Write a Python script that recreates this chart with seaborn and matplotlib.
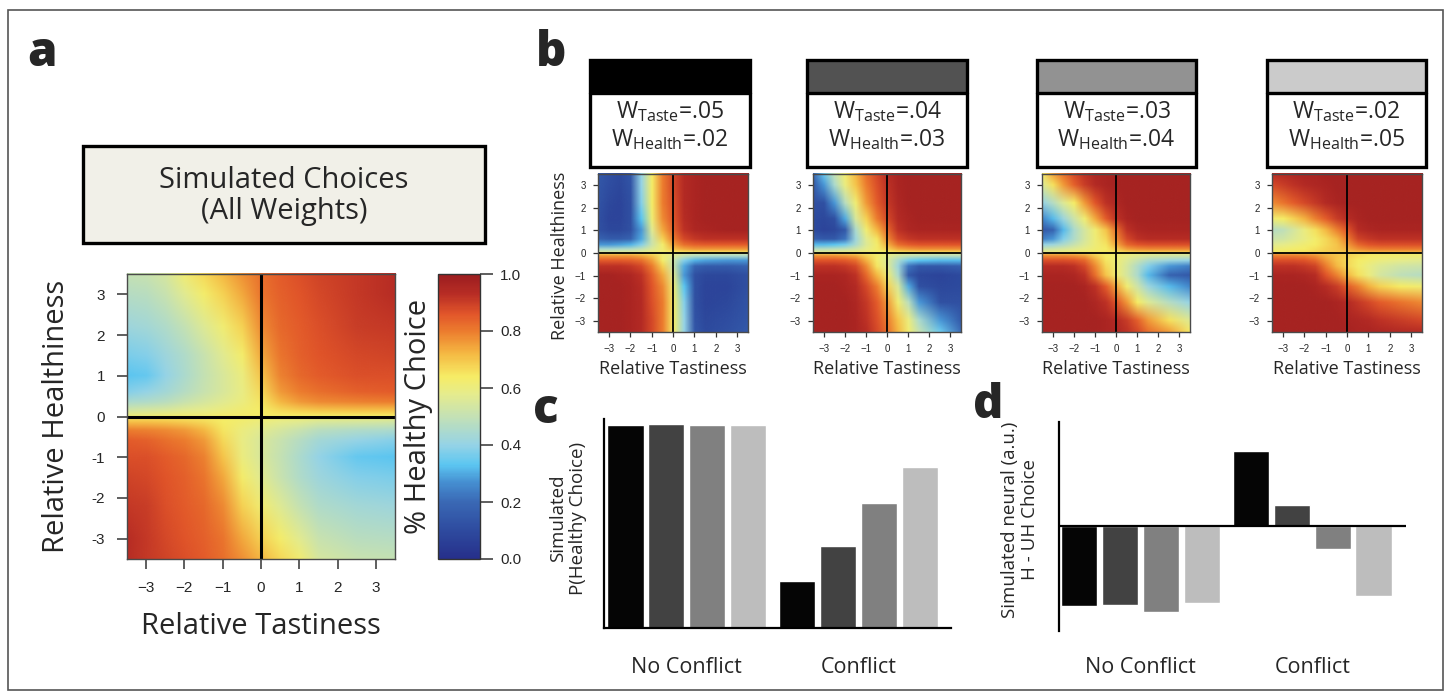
import numpy as np
import pandas as pd
import matplotlib
matplotlib.use("Agg")
import matplotlib.pyplot as plt
import seaborn as sns
from matplotlib.colors import LinearSegmentedColormap, Normalize
from matplotlib.cm import ScalarMappable
from matplotlib.patches import Rectangle
from matplotlib.image import NonUniformImage

# ---------------------------------------------------------------- data
# grid at which the simulated surfaces were read off the picture
tastiness_grid = [-3.5, -3.0, -2.5, -2.0, -1.5, -1.0, -0.5, 0.0, 0.5, 1.0, 1.5, 2.5, 3.5]
healthiness_grid_upper = [0.0, 0.15, 0.35, 0.6, 1.0, 1.5, 2.2, 3.0, 3.5]
# (the lower half of every surface is the 180-degree rotation of the upper half)

axis_ticks = [-3, -2, -1, 0, 1, 2, 3]
xtick_labels = ['\u22123', '\u22122', '\u22121', '0', '1', '2', '3']
ytick_labels_a = ['-3', '-2', '-1', '0', '1', '2', '3']
cbar_ticks = [0.0, 0.2, 0.4, 0.6, 0.8, 1.0]
cbar_ticklabels = ['0.0', '0.2', '0.4', '0.6', '0.8', '1.0']

# P(healthy choice); rows = healthiness_grid_upper, cols = tastiness_grid
all_weights_upper = [
    [0.61, 0.61, 0.62, 0.62, 0.62, 0.63, 0.63, 0.64, 0.64, 0.64, 0.64, 0.64, 0.64],
    [0.53, 0.54, 0.55, 0.57, 0.58, 0.60, 0.62, 0.64, 0.67, 0.69, 0.70, 0.71, 0.71],
    [0.45, 0.46, 0.48, 0.51, 0.54, 0.57, 0.60, 0.65, 0.72, 0.76, 0.78, 0.79, 0.80],
    [0.38, 0.40, 0.43, 0.47, 0.51, 0.55, 0.59, 0.67, 0.76, 0.80, 0.82, 0.84, 0.85],
    [0.33, 0.34, 0.40, 0.45, 0.50, 0.55, 0.60, 0.70, 0.79, 0.83, 0.85, 0.87, 0.87],
    [0.37, 0.38, 0.42, 0.46, 0.51, 0.57, 0.63, 0.74, 0.81, 0.84, 0.86, 0.88, 0.89],
    [0.42, 0.43, 0.46, 0.50, 0.56, 0.62, 0.68, 0.78, 0.83, 0.85, 0.87, 0.90, 0.91],
    [0.47, 0.48, 0.51, 0.57, 0.63, 0.68, 0.74, 0.81, 0.84, 0.86, 0.88, 0.91, 0.93],
    [0.50, 0.51, 0.54, 0.62, 0.67, 0.72, 0.77, 0.82, 0.85, 0.87, 0.89, 0.91, 0.93],
]
taste05_health02_upper = [
    [0.56, 0.56, 0.57, 0.57, 0.58, 0.60, 0.62, 0.64, 0.65, 0.65, 0.65, 0.65, 0.65],
    [0.45, 0.45, 0.46, 0.47, 0.50, 0.56, 0.62, 0.70, 0.74, 0.76, 0.76, 0.76, 0.76],
    [0.28, 0.28, 0.29, 0.31, 0.38, 0.52, 0.63, 0.75, 0.82, 0.84, 0.85, 0.85, 0.85],
    [0.18, 0.16, 0.16, 0.18, 0.30, 0.52, 0.68, 0.80, 0.88, 0.91, 0.92, 0.92, 0.92],
    [0.12, 0.09, 0.09, 0.12, 0.28, 0.57, 0.74, 0.84, 0.92, 0.95, 0.96, 0.97, 0.97],
    [0.12, 0.08, 0.08, 0.12, 0.33, 0.62, 0.78, 0.86, 0.93, 0.96, 0.97, 0.97, 0.97],
    [0.13, 0.09, 0.08, 0.12, 0.38, 0.64, 0.80, 0.87, 0.94, 0.96, 0.97, 0.97, 0.97],
    [0.14, 0.11, 0.09, 0.13, 0.40, 0.64, 0.80, 0.88, 0.94, 0.96, 0.97, 0.97, 0.97],
    [0.15, 0.12, 0.10, 0.14, 0.40, 0.64, 0.80, 0.88, 0.94, 0.96, 0.97, 0.97, 0.97],
]
taste04_health03_upper = [
    [0.58, 0.58, 0.59, 0.60, 0.61, 0.62, 0.63, 0.64, 0.65, 0.66, 0.66, 0.66, 0.66],
    [0.48, 0.48, 0.49, 0.50, 0.53, 0.58, 0.63, 0.68, 0.74, 0.76, 0.77, 0.77, 0.77],
    [0.32, 0.32, 0.33, 0.36, 0.45, 0.56, 0.63, 0.73, 0.82, 0.85, 0.86, 0.86, 0.86],
    [0.17, 0.15, 0.15, 0.22, 0.42, 0.57, 0.65, 0.78, 0.88, 0.91, 0.92, 0.92, 0.92],
    [0.10, 0.08, 0.09, 0.15, 0.45, 0.62, 0.72, 0.83, 0.92, 0.95, 0.96, 0.96, 0.96],
    [0.10, 0.09, 0.12, 0.30, 0.55, 0.68, 0.80, 0.88, 0.94, 0.96, 0.97, 0.97, 0.97],
    [0.12, 0.12, 0.28, 0.48, 0.62, 0.76, 0.85, 0.91, 0.95, 0.97, 0.97, 0.97, 0.97],
    [0.15, 0.28, 0.45, 0.60, 0.70, 0.80, 0.87, 0.92, 0.96, 0.97, 0.97, 0.97, 0.97],
    [0.20, 0.35, 0.50, 0.62, 0.72, 0.82, 0.88, 0.93, 0.96, 0.97, 0.97, 0.97, 0.97],
]
taste03_health04_upper = [
    [0.60, 0.60, 0.61, 0.62, 0.63, 0.64, 0.65, 0.66, 0.67, 0.68, 0.68, 0.68, 0.68],
    [0.52, 0.53, 0.55, 0.57, 0.59, 0.62, 0.64, 0.69, 0.75, 0.77, 0.78, 0.78, 0.78],
    [0.40, 0.42, 0.46, 0.51, 0.56, 0.61, 0.65, 0.74, 0.83, 0.86, 0.87, 0.87, 0.87],
    [0.24, 0.28, 0.38, 0.46, 0.54, 0.61, 0.67, 0.78, 0.88, 0.92, 0.93, 0.93, 0.93],
    [0.15, 0.18, 0.32, 0.45, 0.54, 0.62, 0.70, 0.82, 0.92, 0.95, 0.96, 0.96, 0.96],
    [0.25, 0.32, 0.42, 0.52, 0.62, 0.74, 0.85, 0.92, 0.96, 0.97, 0.97, 0.97, 0.97],
    [0.40, 0.47, 0.56, 0.64, 0.76, 0.86, 0.92, 0.95, 0.97, 0.97, 0.97, 0.97, 0.97],
    [0.56, 0.66, 0.76, 0.84, 0.90, 0.94, 0.96, 0.97, 0.97, 0.97, 0.97, 0.97, 0.97],
    [0.64, 0.75, 0.82, 0.88, 0.92, 0.95, 0.96, 0.97, 0.97, 0.97, 0.97, 0.97, 0.97],
]
taste02_health05_upper = [
    [0.64, 0.64, 0.65, 0.66, 0.67, 0.68, 0.69, 0.70, 0.71, 0.72, 0.72, 0.72, 0.72],
    [0.61, 0.62, 0.63, 0.64, 0.66, 0.68, 0.70, 0.73, 0.77, 0.79, 0.80, 0.80, 0.80],
    [0.57, 0.58, 0.60, 0.62, 0.64, 0.67, 0.70, 0.76, 0.83, 0.86, 0.87, 0.87, 0.87],
    [0.52, 0.53, 0.56, 0.59, 0.63, 0.67, 0.72, 0.80, 0.89, 0.91, 0.92, 0.92, 0.92],
    [0.47, 0.49, 0.54, 0.60, 0.66, 0.72, 0.79, 0.86, 0.93, 0.95, 0.96, 0.96, 0.96],
    [0.62, 0.64, 0.68, 0.73, 0.79, 0.85, 0.90, 0.93, 0.96, 0.97, 0.97, 0.97, 0.97],
    [0.78, 0.81, 0.85, 0.88, 0.91, 0.94, 0.96, 0.97, 0.97, 0.97, 0.97, 0.97, 0.97],
    [0.88, 0.90, 0.92, 0.94, 0.95, 0.96, 0.97, 0.97, 0.97, 0.97, 0.97, 0.97, 0.97],
    [0.93, 0.94, 0.95, 0.96, 0.96, 0.97, 0.97, 0.97, 0.97, 0.97, 0.97, 0.97, 0.97],
]
weight_surfaces = [taste05_health02_upper, taste04_health03_upper,
                   taste03_health04_upper, taste02_health05_upper]
w_taste = ['.05', '.04', '.03', '.02']
w_health = ['.02', '.03', '.04', '.05']

conditions = ['No Conflict', 'Conflict']
weight_sets = ['T.05 H.02', 'T.04 H.03', 'T.03 H.04', 'T.02 H.05']
p_healthy_no_conflict = [0.970, 0.975, 0.970, 0.970]
p_healthy_conflict = [0.225, 0.390, 0.600, 0.770]
neural_no_conflict = [-2.40, -2.37, -2.57, -2.30]
neural_conflict = [2.25, 0.63, -0.69, -2.10]

# ---------------------------------------------------------------- style
sns.set_style('white')
plt.rcParams['font.family'] = ['Open Sans', 'DejaVu Sans']
plt.rcParams['mathtext.fontset'] = 'custom'
plt.rcParams['mathtext.rm'] = 'Open Sans'
plt.rcParams['mathtext.it'] = 'Open Sans'
plt.rcParams['axes.unicode_minus'] = True
TICK_FONT = 'Liberation Sans'

cmap = LinearSegmentedColormap.from_list('healthy', [
    (0.00, '#262f8a'), (0.10, '#2e4b9f'), (0.20, '#3a69b5'), (0.27, '#4690d2'),
    (0.33, '#5cc6f1'), (0.40, '#95d3e6'), (0.50, '#c4e1b5'), (0.58, '#e6ec8c'),
    (0.64, '#f6ec66'), (0.72, '#f5b943'), (0.80, '#ec7c2e'), (0.86, '#e2562a'),
    (0.93, '#b82d25'), (1.00, '#9b1d1f')])
norm = Normalize(0, 1)
band_colors = ['#000000', '#525252', '#929292', '#cbcbcb']
bar_colors = ['#050505', '#424242', '#808080', '#bdbdbd']

W, H = 1448, 692
fig = plt.figure(figsize=(W / 100, H / 100), dpi=100)
fig.patch.set_facecolor('white')


def add_ax(box):
    l, t, r, b = box
    return fig.add_axes([l / W, 1 - b / H, (r - l) / W, (b - t) / H])


def to_axes(box, px, py):
    l, t, r, b = box
    return (px - l) / (r - l), (b - py) / (b - t)


def fxy(px, py):
    return px / W, 1 - py / H


def draw_surface(ax, upper, lw_cross):
    up = np.asarray(upper, float)
    T = np.asarray(tastiness_grid, float)
    Hu = np.asarray(healthiness_grid_upper, float)
    # lower half = 180-degree rotation; a tiny gap keeps the jump at H = 0 sharp
    y_lo = -Hu[::-1].copy()
    y_lo[-1] = -0.001
    y_up = Hu.copy()
    y_up[0] = 0.001
    yy = np.concatenate([y_lo, y_up])
    zz = np.vstack([up[::-1, ::-1], up])
    im = NonUniformImage(ax, interpolation='bilinear', extent=(-3.5, 3.5, -3.5, 3.5),
                         cmap=cmap, norm=norm)
    im.set_data(T, yy, zz)
    ax.add_image(im)
    ax.set_xlim(-3.5, 3.5)
    ax.set_ylim(-3.5, 3.5)
    ax.set_aspect('auto')
    ax.axhline(0, color='black', lw=lw_cross, zorder=3)
    ax.axvline(0, color='black', lw=lw_cross, zorder=3)
    for s in ax.spines.values():
        s.set_visible(True)
        s.set_color('#4a4a4a')
        s.set_linewidth(1.0)
        s.set_zorder(4)


# outer frame
fig.add_artist(Rectangle(fxy(8, 690), (1443 - 8) / W, (690 - 10) / H, transform=fig.transFigure,
                         fill=False, edgecolor='#555555', lw=1.2))

# panel letters
for letter, (px, py) in zip('abcd', [(27, 66), (536, 66), (533, 423), (973, 418)]):
    fig.text(*fxy(px, py), letter, fontsize=34, fontweight='heavy', va='baseline', ha='left')

# ---------------------------------------------------------------- panel a
TITLE_BOX = (83, 146, 485, 243)
tax = add_ax(TITLE_BOX)
tax.set_axis_off()
tax.add_patch(Rectangle((0, 0), 1, 1, transform=tax.transAxes, facecolor='#f1f0e8',
                        edgecolor='black', lw=2.4, clip_on=False))
tax.text(0.5, to_axes(TITLE_BOX, 0, 181)[1], 'Simulated Choices', ha='center', va='center',
         fontsize=21, transform=tax.transAxes)
tax.text(0.5, to_axes(TITLE_BOX, 0, 212)[1], '(All Weights)', ha='center', va='center',
         fontsize=21, transform=tax.transAxes)

A_BOX = (127, 274, 395, 559)
axa = add_ax(A_BOX)
draw_surface(axa, all_weights_upper, 2.2)
axa.set_xticks(axis_ticks)
axa.set_xticklabels(xtick_labels, fontfamily=TICK_FONT, fontsize=11)
axa.set_yticks(axis_ticks)
axa.set_yticklabels(ytick_labels_a, fontfamily=TICK_FONT, fontsize=11)
axa.tick_params(bottom=True, left=True, direction='out', length=7.2, width=1.1,
                color='#333333', pad=8.5)
axa.set_xlabel('Relative Tastiness', fontsize=21, va='center')
axa.xaxis.set_label_coords(*to_axes(A_BOX, 261, 626))
axa.set_ylabel('Relative Healthiness', fontsize=21, va='center')
axa.yaxis.set_label_coords(*to_axes(A_BOX, 57, 416))

CB_BOX = (438, 274, 480, 559)
cax = add_ax(CB_BOX)
cb = fig.colorbar(ScalarMappable(norm=norm, cmap=cmap), cax=cax)
cb.set_ticks(cbar_ticks)
cb.set_ticklabels(cbar_ticklabels, fontfamily=TICK_FONT, fontsize=11)
cax.tick_params(right=True, direction='out', length=9.5, width=1.1, color='#333333', pad=5)
cb.outline.set_edgecolor('#333333')
cb.outline.set_linewidth(1.0)
cax.yaxis.set_label_position('left')
cax.set_ylabel('% Healthy Choice', fontsize=21, va='center', ha='center')
cax.yaxis.set_label_coords(*to_axes(CB_BOX, 419, 416))

# ---------------------------------------------------------------- panel b
HEADER_BOXES = [(590, 60, 750, 167), (807, 60, 967, 167), (1037, 60, 1196, 167),
                (1267, 60, 1426, 167)]
HEAT_BOXES = [(598, 174, 748, 332), (813, 174, 961, 332), (1042, 174, 1190, 332),
              (1272, 174, 1422, 332)]
BAND_BOTTOM = 93
for i in range(4):
    hb = HEADER_BOXES[i]
    hax = add_ax(hb)
    hax.set_axis_off()
    yb = to_axes(hb, 0, BAND_BOTTOM)[1]
    hax.add_patch(Rectangle((0, yb), 1, 1 - yb, transform=hax.transAxes,
                            facecolor=band_colors[i], edgecolor='none'))
    hax.add_patch(Rectangle((0, 0), 1, 1, transform=hax.transAxes, fill=False,
                            edgecolor='black', lw=2.4, clip_on=False))
    hax.plot([0, 1], [yb, yb], color='black', lw=2.4, transform=hax.transAxes,
             clip_on=False)
    hax.text(0.5, to_axes(hb, 0, 112)[1], r'W$_{\mathrm{Taste}}$=' + w_taste[i],
             ha='center', va='center', fontsize=16.5, transform=hax.transAxes)
    hax.text(0.5, to_axes(hb, 0, 140)[1], r'W$_{\mathrm{Health}}$=' + w_health[i],
             ha='center', va='center', fontsize=16.5, transform=hax.transAxes)

    box = HEAT_BOXES[i]
    axb = add_ax(box)
    draw_surface(axb, weight_surfaces[i], 1.3)
    axb.set_xticks(axis_ticks)
    axb.set_xticklabels(xtick_labels, fontfamily=TICK_FONT, fontsize=7)
    axb.set_yticks(axis_ticks)
    axb.set_yticklabels(xtick_labels, fontfamily=TICK_FONT, fontsize=7)
    axb.tick_params(bottom=True, left=True, direction='out', length=3.8, width=0.9,
                    color='#333333', pad=5)
    axb.set_xlabel('Relative Tastiness', fontsize=13, va='center')
    axb.xaxis.set_label_coords(*to_axes(box, (box[0] + box[2]) / 2, 369))
    if i == 0:
        axb.set_ylabel('Relative Healthiness', fontsize=13, va='center')
        axb.yaxis.set_label_coords(*to_axes(box, 560, 256))

# ---------------------------------------------------------------- panels c, d
df_p = pd.DataFrame({
    'condition': [conditions[0]] * 4 + [conditions[1]] * 4,
    'weights': weight_sets * 2,
    'value': p_healthy_no_conflict + p_healthy_conflict,
})
df_n = pd.DataFrame({
    'condition': [conditions[0]] * 4 + [conditions[1]] * 4,
    'weights': weight_sets * 2,
    'value': neural_no_conflict + neural_conflict,
})

C_BOX = (604, 419, 951, 628)
axc = add_ax(C_BOX)
sns.barplot(data=df_p, x='condition', y='value', hue='weights', order=conditions,
            hue_order=weight_sets, palette=bar_colors, saturation=1, width=0.953, gap=0.1,
            errorbar=None, legend=False, ax=axc)
axc.set_xlim(-0.48, 1.538)
axc.set_ylim(0, 1.0)
axc.set_yticks([])
axc.tick_params(axis='x', length=0, pad=21)
for lbl in axc.get_xticklabels():
    lbl.set_fontsize(15.5)
axc.set_xlabel('')
axc.set_ylabel('Simulated\nP(Healthy Choice)', fontsize=13.5, va='center', linespacing=1.15)
axc.yaxis.set_label_coords(*to_axes(C_BOX, 568, 518))
for side in ['top', 'right']:
    axc.spines[side].set_visible(False)
for side in ['left', 'bottom']:
    axc.spines[side].set_color('black')
    axc.spines[side].set_linewidth(1.6)

D_BOX = (1059, 422, 1406, 631)
axd = add_ax(D_BOX)
sns.barplot(data=df_n, x='condition', y='value', hue='weights', order=conditions,
            hue_order=weight_sets, palette=bar_colors, saturation=1, width=0.953, gap=0.1,
            errorbar=None, legend=False, ax=axd)
axd.set_xlim(-0.474, 1.544)
axd.set_ylim(-3.14, 3.13)
axd.axhline(0, color='black', lw=1.6, zorder=3)
axd.set_yticks([])
axd.tick_params(axis='x', length=0, pad=19)
for lbl in axd.get_xticklabels():
    lbl.set_fontsize(15.5)
axd.set_xlabel('')
axd.set_ylabel('Simulated neural (a.u.)\nH - UH Choice', fontsize=13.5, va='center',
               linespacing=1.15)
axd.yaxis.set_label_coords(*to_axes(D_BOX, 1020, 520))
for side in ['top', 'right', 'bottom']:
    axd.spines[side].set_visible(False)
axd.spines['left'].set_color('black')
axd.spines['left'].set_linewidth(1.6)

fig.savefig('out.png', dpi=100, facecolor='white')
